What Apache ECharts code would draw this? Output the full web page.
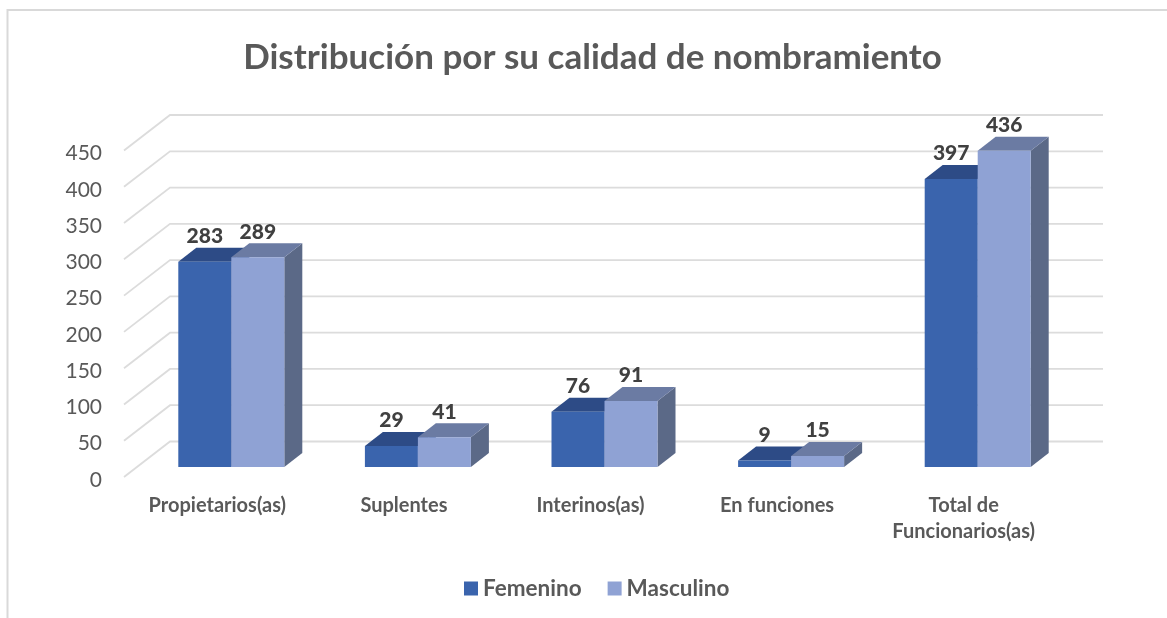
<!DOCTYPE html>
<html>
<head>
<meta charset="utf-8">
<style>
html, body { margin: 0; padding: 0; background: #fff; }
#chart { width: 1167px; height: 618px; }
</style>
<script src="https://cdn.jsdelivr.net/npm/echarts@6/dist/echarts.min.js"></script>
</head>
<body>
<div id="chart"></div>
<script>
var categories = ['Propietarios(as)', 'Suplentes', 'Interinos(as)', 'En funciones', 'Total de\nFuncionarios(as)'];
var femenino = [283, 29, 76, 9, 397];
var masculino = [289, 41, 91, 15, 436];
var yTicks = [0, 50, 100, 150, 200, 250, 300, 350, 400, 450];

var font = 'Lato';
// grid sits 3px low so the tick labels line up, drawing is pulled back up by this
var lift = -3;
var wallDx = 46, wallDy = -35.5;
var barDx = 18, barDy = -14;
var floorDx = 14, floorDy = -10 + lift;
var barW = 53;

var dom = document.getElementById('chart');
var myChart = echarts.init(dom);

// gridlines on the floor/back wall of the fake 3d box
function renderWall(params, api) {
	var y = api.coord([0, api.value(0)])[1] + lift;
	var x0 = params.coordSys.x;
	var w = params.coordSys.width;
	return {
		type: 'polyline',
		silent: true,
		shape: { points: [[x0, y], [x0 + wallDx, y + wallDy], [x0 + wallDx + w, y + wallDy]] },
		style: { fill: null, stroke: '#dcdcdc', lineWidth: 1.8 }
	};
}

function makeBar(index, front, top, side) {
	return function (params, api) {
		var p = api.coord([api.value(0), api.value(1)]);
		var base = api.coord([api.value(0), 0]);
		var xl = p[0] + floorDx + (index - 1) * barW;
		var xr = xl + barW;
		var yt = p[1] + floorDy;
		var yb = base[1] + floorDy;
		return {
			type: 'group',
			children: [
				{ type: 'polygon', shape: { points: [[xr, yt], [xr + barDx, yt + barDy], [xr + barDx, yb + barDy], [xr, yb]] }, style: { fill: side } },
				{ type: 'polygon', shape: { points: [[xl, yt], [xl + barDx, yt + barDy], [xr + barDx, yt + barDy], [xr, yt]] }, style: { fill: top } },
				{ type: 'rect', shape: { x: xl, y: yt, width: barW, height: yb - yt }, style: { fill: front } },
				{ type: 'text', style: { x: xl + barW / 2, y: yt - 25.5, text: String(api.value(1)), align: 'center', verticalAlign: 'middle', fill: '#404040', font: '900 21px ' + font } }
			]
		};
	};
}

function pairs(arr) {
	return arr.map(function (v, i) { return [i, v]; });
}

var option = {
	animation: false,
	backgroundColor: '#fff',
	title: {
		text: 'Distribución por su calidad de nombramiento',
		left: 587.5, top: 35, textAlign: 'center',
		textStyle: { color: '#595959', fontFamily: font, fontWeight: 'bold', fontSize: 35 }
	},
	legend: {
		left: 459, top: 572, icon: 'rect', itemWidth: 14, itemHeight: 14, itemGap: 26, itemTextGap: 6,
		selectedMode: false,
		data: [
			{ name: 'Femenino', itemStyle: { color: '#3a64ad' } },
			{ name: 'Masculino', itemStyle: { color: '#8fa2d4' } }
		],
		textStyle: { color: '#595959', fontFamily: font, fontWeight: 'bold', fontSize: 22.5 }
	},
	grid: { left: 124, top: 153.5, width: 933, height: 326.5 },
	xAxis: {
		type: 'category',
		data: categories,
		axisLine: { show: false },
		axisTick: { show: false },
		axisLabel: { color: '#595959', fontFamily: font, fontWeight: 'bold', fontSize: 20, margin: 13, lineHeight: 26, interval: 0 }
	},
	yAxis: {
		type: 'value', min: 0, max: 450, interval: 50,
		axisLine: { show: false },
		axisTick: { show: false },
		splitLine: { show: false },
		axisLabel: { color: '#595959', fontFamily: font, fontSize: 21, margin: 22 }
	},
	graphic: [
		{ type: 'polyline', shape: { points: [[7.5, 618], [7.5, 10], [1167, 10]] }, style: { fill: null, stroke: '#d9d9d9', lineWidth: 2 }, silent: true }
	],
	series: [
		{ type: 'custom', name: 'walls', silent: true, data: yTicks.map(function (t) { return [t]; }), encode: { y: 0 }, renderItem: renderWall, z: 1 },
		{ type: 'custom', name: 'Femenino', data: pairs(femenino), encode: { x: 0, y: 1 }, renderItem: makeBar(0, '#3a64ad', '#2d4b86', '#2d4b86'), itemStyle: { color: '#3a64ad' }, z: 2 },
		{ type: 'custom', name: 'Masculino', data: pairs(masculino), encode: { x: 0, y: 1 }, renderItem: makeBar(1, '#8fa2d4', '#6b7ba3', '#5b6987'), itemStyle: { color: '#8fa2d4' }, z: 3 }
	]
};
myChart.setOption(option, true);
window.onresize = function () {
	myChart.resize();
};
</script>
</body>
</html>
